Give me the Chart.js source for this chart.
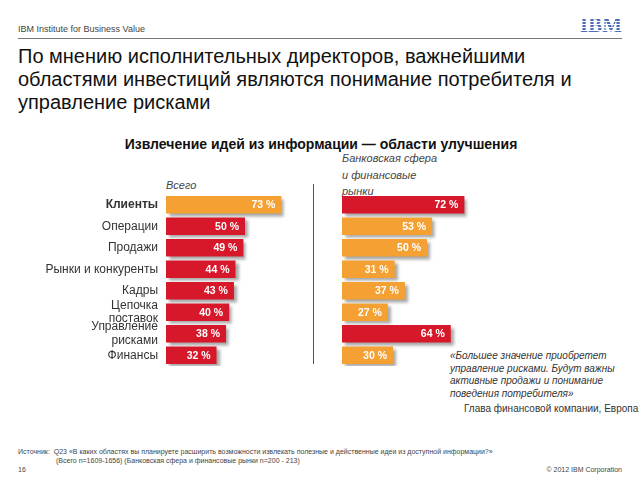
<!DOCTYPE html>
<html>
<head>
<meta charset="utf-8">
<script src="https://cdn.jsdelivr.net/npm/chart.js@4"></script>
<style>
  html, body { margin:0; padding:0; background:#fff; }
  body { width:640px; height:480px; position:relative; overflow:hidden; font-family:"Liberation Sans", Arial, sans-serif; }
  .abs { position:absolute; white-space:nowrap; }
  #hdr { left:18px; top:24px; font-size:9px; color:#444; }
  #rule { left:18px; top:38px; width:604px; height:1px; background:#777; }
  #logo { left:580px; top:13px; font-size:21px; font-weight:bold; color:#4a6bb5; letter-spacing:0px; font-family:"Liberation Serif", serif;
          background: repeating-linear-gradient(to bottom, #4a6bb5 0px, #4a6bb5 2px, #fff 2px, #fff 3px); -webkit-background-clip:text; background-clip:text; -webkit-text-fill-color:transparent; }
  #title { left:18px; top:45px; font-size:20px; line-height:23px; color:#111; white-space:normal; width:600px; }
  #sub { left:0; width:642px; text-align:center; top:136px; font-size:14px; font-weight:bold; color:#111; }
  #all { left:166px; top:179px; font-size:11px; font-style:italic; color:#444; }
  #bank { left:342px; top:150px; font-size:11px; line-height:16.5px; font-style:italic; color:#444; }
  #vline { left:313px; top:184px; width:1px; height:180px; background:#d7182a; }
  #quote { left:450px; top:350px; font-size:10px; line-height:12.5px; font-style:italic; color:#333; }
  #attr { left:464px; top:403px; font-size:10px; color:#333; }
  #src { left:18px; top:447px; font-size:7px; line-height:9px; color:#444; }
  #pg { left:18px; top:466px; font-size:7px; color:#444; }
  #copy { right:18px; top:466px; font-size:7px; color:#444; }
  #cL { position:absolute; left:20px; top:194px; }
  #cR { position:absolute; left:342px; top:194px; }
</style>
</head>
<body>
<div class="abs" id="hdr">IBM Institute for Business Value</div>
<div class="abs" id="rule"></div>
<div class="abs" id="logo">IBM</div>
<div class="abs" id="title">По мнению исполнительных директоров, важнейшими областями инвестиций являются понимание потребителя и управление рисками</div>
<div class="abs" id="sub">Извлечение идей из информации — области улучшения</div>
<div class="abs" id="all">Всего</div>
<div class="abs" id="bank">Банковская сфера<br>и финансовые<br>рынки</div>
<div class="abs" id="vline"></div>
<div class="abs" id="quote">«Большее значение приобретет<br>управление рисками. Будут важны<br>активные продажи и понимание<br>поведения потребителя»</div>
<div class="abs" id="attr">Глава финансовой компании, Европа</div>
<div class="abs" id="src">Источник:&nbsp; Q23 «В каких областях вы планируете расширить возможности извлекать полезные и действенные идеи из доступной информации?»<br><span style="padding-left:38px">(Всего n=1609-1656) (Банковская сфера и финансовые рынки n=200 - 213)</span></div>
<div class="abs" id="pg">16</div>
<div class="abs" id="copy">© 2012 IBM Corporation</div>

<canvas id="cL" width="304" height="172"></canvas>
<canvas id="cR" width="170" height="172"></canvas>

<script>
// ---- data ----
const categories = ["Клиенты", "Операции", "Продажи", "Рынки и конкуренты", "Кадры", ["Цепочка", "поставок"], ["Управление", "рисками"], "Финансы"];
const totalValues = [73, 50, 49, 44, 43, 40, 38, 32];
const bankValues  = [72, 53, 50, 31, 37, 27, 64, 30];
const totalHighlight = [0];      // indices drawn orange in "Всего"
const bankHighlight  = [0, 6];   // indices drawn red in banking
// ---- styles ----
const RED = '#d7182a', ORANGE = '#f4a032';
const FONT = '"Liberation Sans", Arial, sans-serif';
const totalColors = totalValues.map((v, i) => totalHighlight.includes(i) ? ORANGE : RED);
const bankColors  = bankValues.map((v, i) => bankHighlight.includes(i) ? RED : ORANGE);

const barPlugin = {
  id: 'barDeco',
  beforeDatasetsDraw(chart) {
    const c = chart.ctx; c.save();
    c.shadowColor = 'rgba(0,0,0,0.35)'; c.shadowOffsetX = 3; c.shadowOffsetY = 3; c.shadowBlur = 3;
  },
  afterDatasetsDraw(chart, args, opts) {
    const c = chart.ctx; c.restore();
    c.save();
    c.font = 'bold 10.5px ' + FONT;
    c.fillStyle = '#fff'; c.textAlign = 'right'; c.textBaseline = 'middle';
    const meta = chart.getDatasetMeta(0);
    meta.data.forEach((bar, i) => {
      c.fillText(chart.data.datasets[0].data[i] + ' %', bar.x - 6, bar.y + 0.5);
    });
    if (opts.showLabels) {
      const ys = chart.scales.y;
      c.fillStyle = '#333'; c.textAlign = 'right'; c.textBaseline = 'middle';
      chart.data.labels.forEach((lab, i) => {
        c.font = (i === 0 ? 'bold ' : '') + '12px ' + FONT;
        const lines = Array.isArray(lab) ? lab : [lab];
        const lh = 13.5;
        const y0 = ys.getPixelForValue(i) - (lines.length - 1) * lh / 2;
        lines.forEach((ln, k) => c.fillText(ln, chart.chartArea.left - 8, y0 + k * lh));
      });
    }
    c.restore();
  }
};

function makeChart(id, values, colors, showLabels) {
  return new Chart(document.getElementById(id), {
    type: 'bar',
    data: { labels: categories, datasets: [{ data: values, backgroundColor: colors, borderWidth: 0,
      categoryPercentage: 1, barPercentage: 0.82 }] },
    options: {
      indexAxis: 'y', responsive: false, animation: false,
      layout: { padding: { left: showLabels ? 146 : 0, right: 0, top: 0, bottom: 0 } },
      plugins: { legend: { display: false }, tooltip: { enabled: false }, barDeco: { showLabels } },
      scales: {
        x: { display: false, min: 0, max: 100 },
        y: { display: false }
      }
    },
    plugins: [barPlugin]
  });
}
makeChart('cL', totalValues, totalColors, true);
makeChart('cR', bankValues, bankColors, false);
</script>
</body>
</html>
